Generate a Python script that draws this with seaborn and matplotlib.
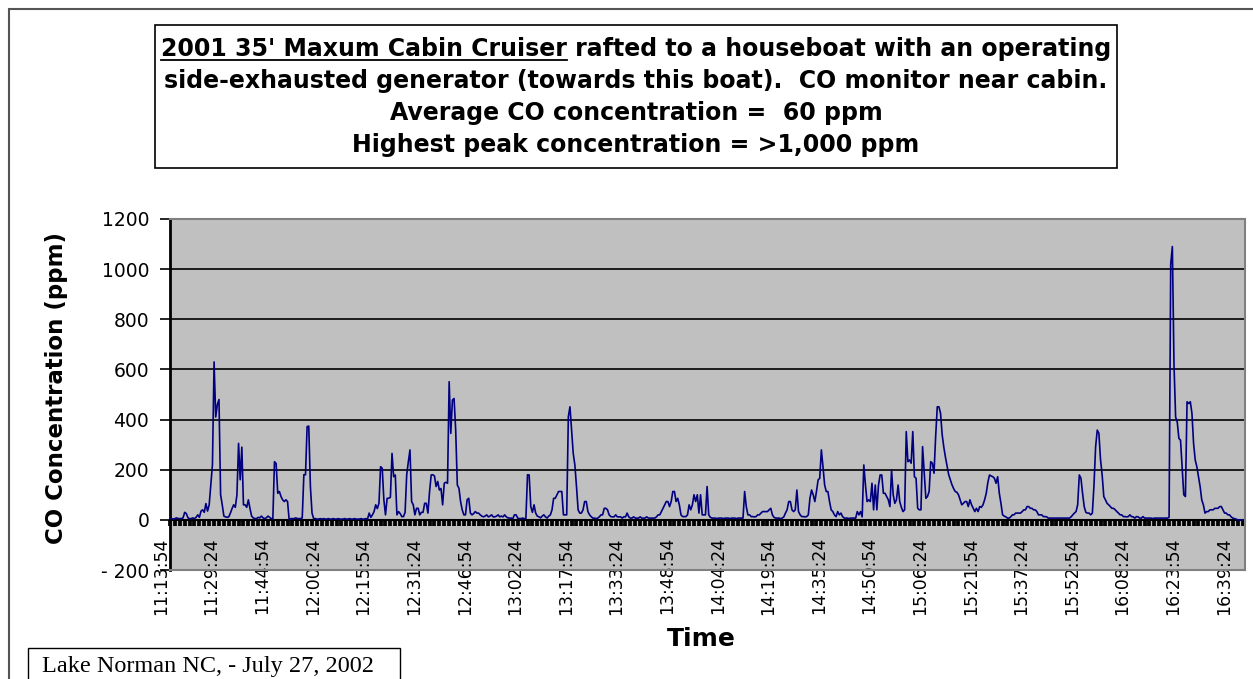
import numpy as np
import pandas as pd
import matplotlib
matplotlib.use("Agg")
import matplotlib.pyplot as plt
import seaborn as sns
from matplotlib.patches import Rectangle
from matplotlib.lines import Line2D
from matplotlib.ticker import MultipleLocator

# CO readings (ppm), one every 30 s, grouped by the 15.5 min label intervals
co_1113 = [5, 5, 3, 5, 8, 5, 5, 5, 8, 30, 25, 8, 5, 5, 8, 5, 10, 20, 10, 35, 40, 30, 65, 35, 60, 140, 220, 630, 410, 460, 480]
co_1129 = [100, 60, 15, 12, 10, 12, 27, 45, 60, 50, 100, 305, 160, 290, 60, 60, 50, 80, 45, 15, 8, 5, 5, 10, 8, 15, 8, 5, 8, 15, 10]
co_1144 = [5, 5, 232, 225, 106, 113, 93, 80, 73, 80, 73, 0, 5, 5, 5, 8, 5, 5, 5, 8, 180, 180, 372, 374, 133, 27, 5, 5, 3, 3, 5]
co_1200 = [3, 5, 3, 3, 5, 3, 3, 5, 3, 3, 5, 3, 3, 3, 5, 3, 3, 5, 3, 3, 5, 3, 3, 3, 5, 3, 3, 5, 3, 27, 10]
co_1215 = [20, 33, 60, 45, 66, 212, 206, 80, 20, 86, 86, 90, 265, 172, 179, 20, 33, 25, 13, 13, 30, 180, 232, 279, 73, 60, 20, 46, 46, 20, 30]
co_1231 = [30, 66, 66, 27, 113, 179, 180, 175, 133, 153, 119, 125, 60, 146, 150, 146, 551, 345, 478, 484, 358, 139, 126, 73, 40, 20, 20, 80, 86, 27, 20]
co_1246 = [25, 33, 27, 27, 20, 15, 12, 15, 20, 12, 15, 20, 12, 12, 15, 20, 12, 15, 12, 20, 12, 8, 7, 7, 5, 20, 20, 7, 5, 5, 7]
co_1302 = [5, 5, 180, 179, 53, 30, 60, 27, 15, 12, 8, 15, 20, 12, 7, 15, 20, 40, 86, 86, 100, 113, 113, 113, 20, 20, 20, 411, 451, 358, 265]
co_1317 = [219, 133, 40, 27, 27, 40, 73, 73, 33, 20, 13, 7, 7, 5, 7, 12, 20, 20, 46, 46, 40, 20, 13, 12, 12, 20, 12, 12, 12, 7, 12]
co_1333 = [12, 27, 12, 7, 7, 12, 7, 7, 7, 12, 7, 7, 7, 12, 7, 7, 7, 7, 7, 12, 20, 20, 33, 46, 60, 73, 73, 53, 73, 113, 113]
co_1348 = [73, 86, 60, 20, 13, 13, 13, 20, 60, 40, 60, 100, 73, 100, 27, 100, 20, 20, 20, 133, 20, 10, 7, 7, 7, 5, 7, 7, 7, 5, 7]
co_1404 = [7, 7, 5, 7, 7, 7, 5, 7, 7, 7, 7, 113, 53, 20, 20, 13, 13, 12, 13, 20, 20, 27, 33, 33, 33, 33, 40, 46, 20, 10, 7]
co_1419 = [7, 7, 5, 7, 12, 27, 40, 73, 73, 40, 33, 40, 119, 33, 20, 13, 13, 12, 13, 20, 86, 119, 100, 73, 113, 159, 166, 279, 212, 139, 113]
co_1435 = [113, 73, 40, 33, 20, 13, 33, 20, 27, 13, 7, 7, 7, 5, 7, 7, 7, 7, 33, 20, 33, 12, 219, 139, 73, 80, 73, 146, 40, 139, 40]
co_1450 = [139, 179, 179, 106, 106, 93, 80, 53, 199, 100, 66, 80, 139, 73, 50, 33, 40, 352, 232, 239, 226, 352, 172, 166, 46, 40, 40, 292, 192, 86, 93]
co_1506 = [113, 232, 226, 186, 332, 451, 451, 425, 340, 290, 250, 215, 180, 160, 140, 125, 113, 110, 100, 80, 60, 66, 73, 73, 53, 80, 60, 46, 33, 46, 33]
co_1521 = [53, 50, 60, 80, 106, 150, 179, 175, 172, 166, 146, 172, 106, 66, 20, 15, 12, 7, 7, 12, 20, 20, 27, 27, 27, 27, 33, 40, 40, 53, 53]
co_1537 = [46, 46, 40, 40, 33, 20, 20, 20, 13, 13, 12, 7, 7, 7, 7, 7, 7, 7, 7, 7, 7, 7, 7, 7, 7, 12, 20, 27, 33, 60, 179]
co_1552 = [166, 106, 53, 30, 27, 27, 20, 27, 139, 292, 358, 345, 240, 179, 93, 80, 66, 60, 53, 46, 46, 40, 33, 27, 20, 20, 13, 13, 12, 13, 20]
co_1608 = [13, 12, 7, 13, 12, 7, 7, 13, 7, 7, 7, 7, 7, 5, 7, 7, 7, 7, 7, 7, 7, 7, 7, 10, 1020, 1090, 620, 410, 390, 325, 318]
co_1623 = [212, 100, 93, 471, 464, 471, 425, 305, 239, 212, 172, 133, 80, 60, 27, 33, 33, 40, 40, 40, 46, 46, 46, 53, 53, 40, 27, 27, 20, 20, 12]
co_1639 = [7, 5, 3, 0, 0, 0, 0]

time_labels = ["11:13:54", "11:29:24", "11:44:54", "12:00:24", "12:15:54", "12:31:24",
               "12:46:54", "13:02:24", "13:17:54", "13:33:24", "13:48:54", "14:04:24",
               "14:19:54", "14:35:24", "14:50:54", "15:06:24", "15:21:54", "15:37:24",
               "15:52:54", "16:08:24", "16:23:54", "16:39:24"]
readings_per_label = 31

y_ticks = [-200, 0, 200, 400, 600, 800, 1000, 1200]
y_tick_labels = ["- 200", "0", "200", "400", "600", "800", "1000", "1200"]

title_underlined = "2001 35' Maxum Cabin Cruiser"
title_lines = [
    title_underlined + " rafted to a houseboat with an operating",
    "side-exhausted generator (towards this boat).  CO monitor near cabin.",
    "Average CO concentration =  60 ppm",
    "Highest peak concentration = >1,000 ppm",
]
footnote = "Lake Norman NC, - July 27, 2002"

co = np.concatenate([co_1113, co_1129, co_1144, co_1200, co_1215, co_1231, co_1246,
                     co_1302, co_1317, co_1333, co_1348, co_1404, co_1419, co_1435,
                     co_1450, co_1506, co_1521, co_1537, co_1552, co_1608, co_1623,
                     co_1639])
df = pd.DataFrame({"reading": np.arange(len(co)), "co": co})

plt.rcParams["font.family"] = "DejaVu Sans"

W, H = 1253, 679
fig = plt.figure(figsize=(W / 100, H / 100), dpi=100)
fig.patch.set_facecolor("white")

# outer chart border (only top and left edges visible in the crop)
fig.add_artist(Rectangle((9 / W, -0.05), 1.1, 1.05 - 9 / H, transform=fig.transFigure,
                         fill=False, edgecolor="#555555", lw=1.5))

ax = fig.add_axes([170 / W, 1 - 570 / H, (1245 - 170) / W, (570 - 219) / H])
ax.set_facecolor("#c0c0c0")

sns.lineplot(data=df, x="reading", y="co", color="#000080", linewidth=1.2, ax=ax, zorder=3)

ax.set_xlim(0, len(co) + 0.5)
ax.set_ylim(-200, 1200)
ax.set_yticks(y_ticks, labels=y_tick_labels)
ax.set_xticks([])
ax.set_xlabel("")
ax.set_ylabel("")
ax.yaxis.grid(True, color="black", lw=1.2)
ax.set_axisbelow(True)
gl = ax.yaxis.get_gridlines()
gl[0].set_visible(False)
gl[-1].set_visible(False)
ax.tick_params(axis="y", length=7, width=1.2, color="black", pad=8, labelsize=13.5)

for side in ["top", "right", "bottom"]:
    ax.spines[side].set_color("#808080")
    ax.spines[side].set_linewidth(1.5)
ax.spines["left"].set_color("black")
ax.spines["left"].set_linewidth(2)

# category axis crossing at zero, with the dense tick marks
sec = ax.secondary_xaxis(200 / 1400)
sec.spines["bottom"].set_color("black")
sec.spines["bottom"].set_linewidth(1.5)
sec.spines["top"].set_visible(False)
label_pos = [i * readings_per_label for i in range(len(time_labels))]
sec.set_xticks(label_pos, labels=time_labels, rotation=90, ha="right", fontsize=12.5)
sec.xaxis.set_minor_locator(MultipleLocator(3))
sec.xaxis.remove_overlapping_locs = False
sec.tick_params(which="minor", direction="out", length=4.5, width=2.7, color="black")
sec.tick_params(which="major", length=0, pad=12.5)

fig.text(56 / W, 1 - 388 / H, "CO Concentration (ppm)", rotation=90, ha="center", va="center",
         fontsize=16.5, fontweight="bold")
fig.text(701 / W, 1 - 639 / H, "Time", ha="center", va="center", fontsize=18, fontweight="bold")

# title box
fig.add_artist(Rectangle((155 / W, 1 - 168 / H), (1117 - 155) / W, (168 - 25) / H,
                         transform=fig.transFigure, facecolor="white", edgecolor="black", lw=1.2))
title_size = 17
baselines = [56, 88, 120, 152]
texts = []
for line, yb in zip(title_lines, baselines):
    texts.append(fig.text(636 / W, 1 - yb / H, line, ha="center", va="baseline",
                          fontsize=title_size, fontweight="bold"))

fig.canvas.draw()
renderer = fig.canvas.get_renderer()
bb = texts[0].get_window_extent(renderer)
tmp = fig.text(0, 0, title_underlined, fontsize=title_size, fontweight="bold")
w_under = tmp.get_window_extent(renderer).width
tmp.remove()
yu = (H - 59.5) / H
fig.add_artist(Line2D([bb.x0 / W, (bb.x0 + w_under) / W], [yu, yu], transform=fig.transFigure,
                      color="black", lw=1.3))

# footnote box
fig.add_artist(Rectangle((28 / W, -0.05), (400 - 28) / W, 0.05 + (679 - 648) / H,
                         transform=fig.transFigure, facecolor="white", edgecolor="black", lw=1.0))
fig.text(42 / W, 7 / H, footnote, ha="left", va="baseline", fontsize=17.5,
         family="Liberation Serif")

fig.savefig("out.png", dpi=100)
